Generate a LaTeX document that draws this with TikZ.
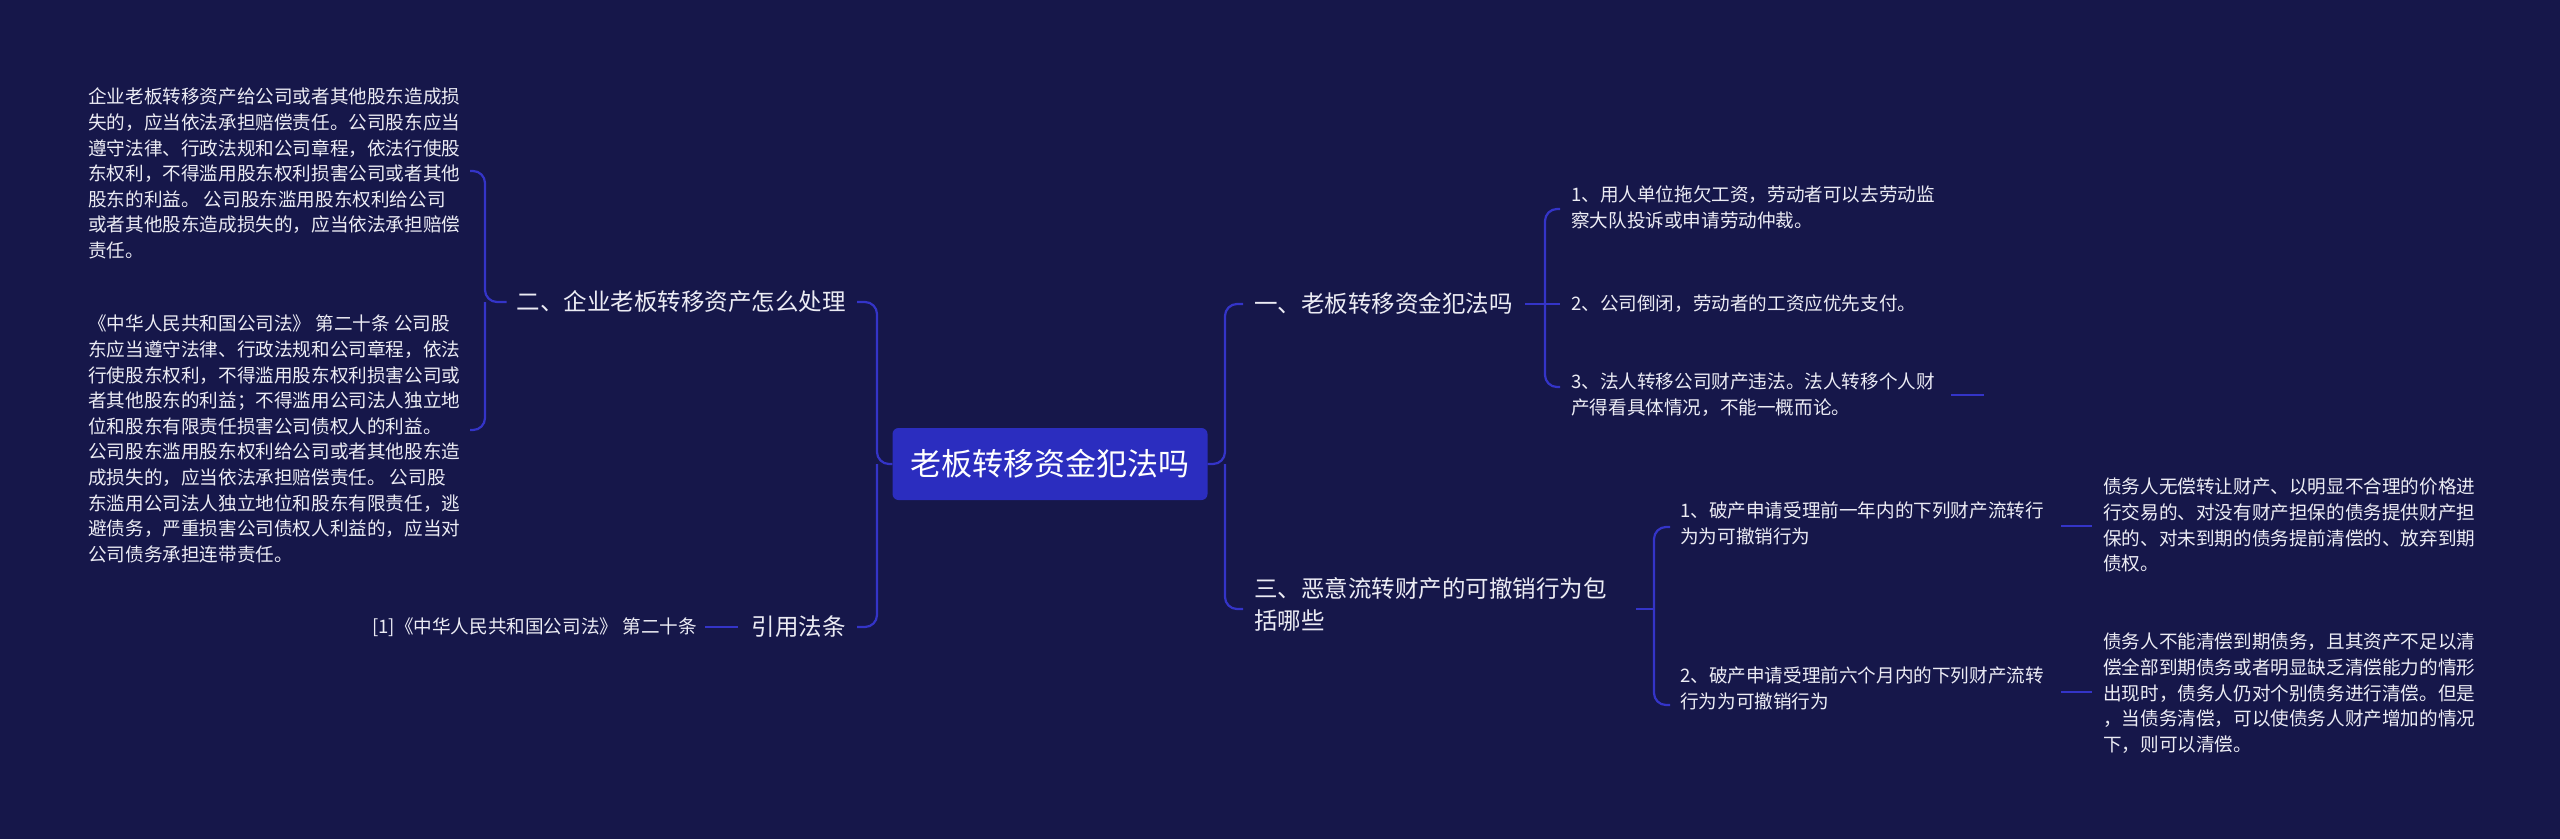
\documentclass[tikz,border=0pt]{standalone}
\usepackage{fontspec}
\setmainfont{Noto Sans CJK SC}
\definecolor{bg}{HTML}{16174A}
\definecolor{ln}{HTML}{3434C8}
\definecolor{rootc}{HTML}{2B2DBF}
\definecolor{tx}{HTML}{ECECF4}
\begin{document}
\begin{tikzpicture}[x=1pt,y=-1pt,
  conn/.style={draw=ln,line width=2.2pt,rounded corners=12pt},
  small/.style={text=tx,inner sep=0pt,align=left,font=\fontsize{18.6}{25.6}\selectfont},
  branch/.style={text=tx,inner sep=0pt,align=left,font=\fontsize{23.5}{32}\selectfont}]
\fill[bg] (0,0) rectangle (2560,839);
\useasboundingbox (0,0) rectangle (2560,839);
\node[fill=rootc,rounded corners=6pt,minimum width=315pt,minimum height=72pt,text=white,font=\fontsize{31}{36}\selectfont] (root) at (1050,464) {老板转移资金犯法吗};
% left side
\node[branch,anchor=east] (n2) at (846,302) {二、企业老板转移资产怎么处理};
\node[branch,anchor=east] (ref) at (846,627) {引用法条};
\node[small,anchor=north west] (t1) at (88,88) {企业老板转移资产给公司或者其他股东造成损\\失的，应当依法承担赔偿责任。公司股东应当\\遵守法律、行政法规和公司章程，依法行使股\\东权利，不得滥用股东权利损害公司或者其他\\股东的利益。 公司股东滥用股东权利给公司\\或者其他股东造成损失的，应当依法承担赔偿\\责任。};
\node[small,anchor=north west] (t2) at (88,315) {《中华人民共和国公司法》 第二十条 公司股\\东应当遵守法律、行政法规和公司章程，依法\\行使股东权利，不得滥用股东权利损害公司或\\者其他股东的利益；不得滥用公司法人独立地\\位和股东有限责任损害公司债权人的利益。\\公司股东滥用股东权利给公司或者其他股东造\\成损失的，应当依法承担赔偿责任。 公司股\\东滥用公司法人独立地位和股东有限责任，逃\\避债务，严重损害公司债权人利益的，应当对\\公司债务承担连带责任。};
\node[small,anchor=east] (rt) at (697,627) {[1]《中华人民共和国公司法》 第二十条};
\coordinate (L1) at (877,464);
\draw[conn] (root.west) -- (L1) |- (857,302);
\draw[conn] (L1) |- (857,627);
\coordinate (L2) at (485,302);
\draw[conn] (n2.west) ++(-10,0) -- (L2) |- (470,171);
\draw[conn] (L2) |- (470,430);
\draw[draw=ln,line width=2.2pt] (705,627) -- (738,627);
% right side
\node[branch,anchor=west] (n1) at (1254,304) {一、老板转移资金犯法吗};
\node[branch,anchor=north west] (n3) at (1254,577) {三、恶意流转财产的可撤销行为包\\括哪些};
\coordinate (R1) at (1225,464);
\draw[conn] (root.east) -- (R1) |- (1243,304);
\draw[conn] (R1) |- (1243,609);
\node[small,anchor=north west] (a1) at (1571,186) {1、用人单位拖欠工资，劳动者可以去劳动监\\察大队投诉或申请劳动仲裁。};
\node[small,anchor=west] (a2) at (1571,304) {2、公司倒闭，劳动者的工资应优先支付。};
\node[small,anchor=north west] (a3) at (1571,373) {3、法人转移公司财产违法。法人转移个人财\\产得看具体情况，不能一概而论。};
\coordinate (R2) at (1545,304);
\draw[conn] (n1.east) ++(12,0) -- (1560,304);
\draw[conn] (1560,209) -| (R2) |- (1560,387);
\draw[draw=ln,line width=2.2pt] (1951,395) -- (1984,395);
\node[small,anchor=north west] (b1) at (1680,502) {1、破产申请受理前一年内的下列财产流转行\\为为可撤销行为};
\node[small,anchor=north west] (b2) at (1680,667) {2、破产申请受理前六个月内的下列财产流转\\行为为可撤销行为};
\coordinate (R3) at (1654,609);
\draw[conn] (1636,609) -- (R3);
\draw[conn] (1670,527) -| (R3) |- (1670,705);
\node[small,anchor=north west] (c1) at (2103,478) {债务人无偿转让财产、以明显不合理的价格进\\行交易的、对没有财产担保的债务提供财产担\\保的、对未到期的债务提前清偿的、放弃到期\\债权。};
\node[small,anchor=north west] (c2) at (2103,633) {债务人不能清偿到期债务，且其资产不足以清\\偿全部到期债务或者明显缺乏清偿能力的情形\\出现时，债务人仍对个别债务进行清偿。但是\\，当债务清偿，可以使债务人财产增加的情况\\下，则可以清偿。};
\draw[draw=ln,line width=2.2pt] (2061,526) -- (2092,526);
\draw[draw=ln,line width=2.2pt] (2061,692) -- (2092,692);
\end{tikzpicture}
\end{document}
